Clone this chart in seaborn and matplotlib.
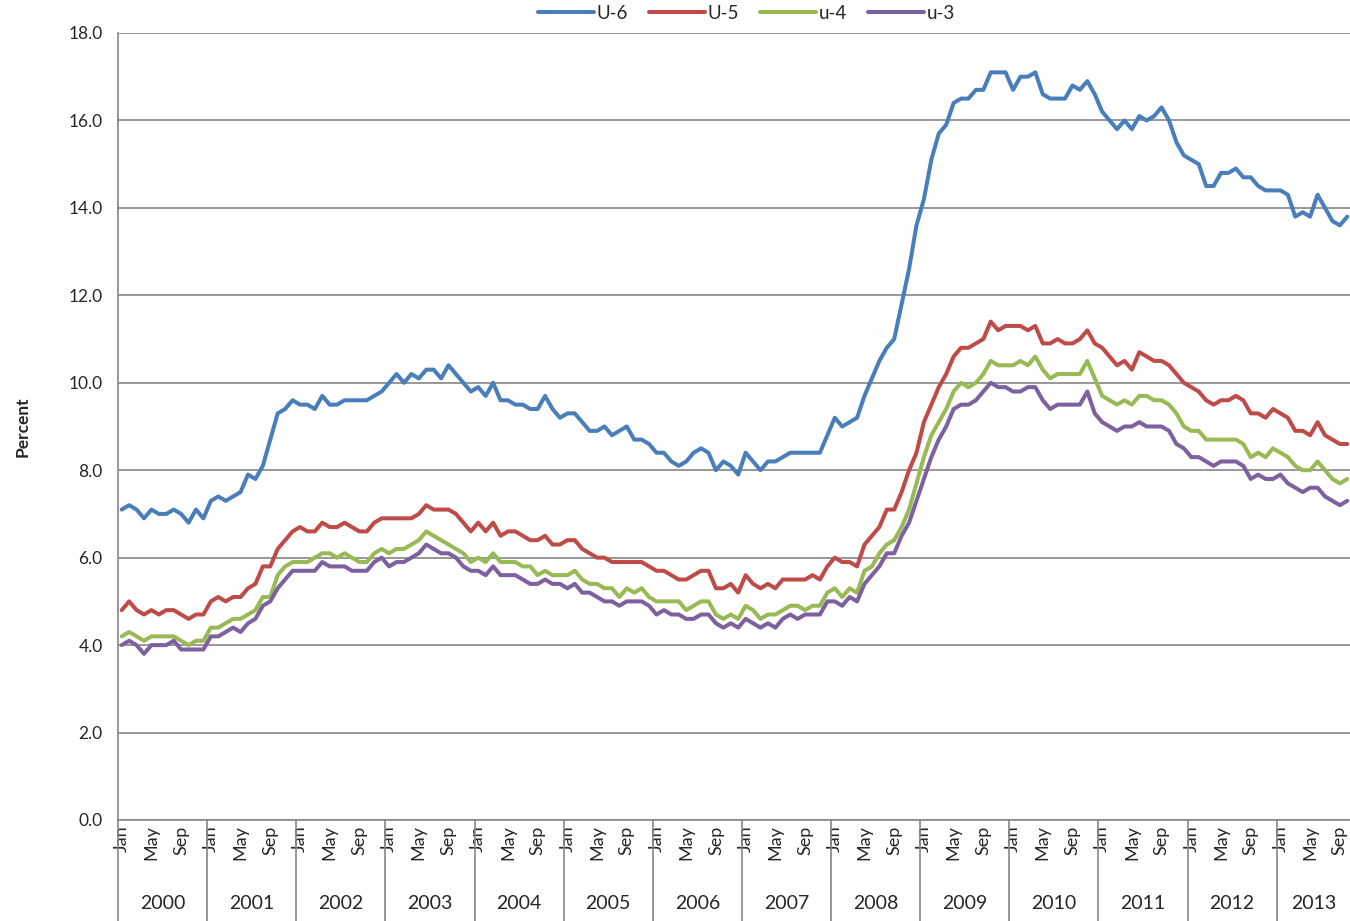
import numpy as np
import pandas as pd
import matplotlib
matplotlib.use("Agg")
import matplotlib.pyplot as plt
import seaborn as sns

# Monthly rates, Jan 2000 - Oct 2013
years = list(range(2000, 2014))
month_names = ["Jan", "Feb", "Mar", "Apr", "May", "Jun",
               "Jul", "Aug", "Sep", "Oct", "Nov", "Dec"]

u6 = [
    7.1, 7.2, 7.1, 6.9, 7.1, 7.0, 7.0, 7.1, 7.0, 6.8, 7.1, 6.9,
    7.3, 7.4, 7.3, 7.4, 7.5, 7.9, 7.8, 8.1, 8.7, 9.3, 9.4, 9.6,
    9.5, 9.5, 9.4, 9.7, 9.5, 9.5, 9.6, 9.6, 9.6, 9.6, 9.7, 9.8,
    10.0, 10.2, 10.0, 10.2, 10.1, 10.3, 10.3, 10.1, 10.4, 10.2, 10.0, 9.8,
    9.9, 9.7, 10.0, 9.6, 9.6, 9.5, 9.5, 9.4, 9.4, 9.7, 9.4, 9.2,
    9.3, 9.3, 9.1, 8.9, 8.9, 9.0, 8.8, 8.9, 9.0, 8.7, 8.7, 8.6,
    8.4, 8.4, 8.2, 8.1, 8.2, 8.4, 8.5, 8.4, 8.0, 8.2, 8.1, 7.9,
    8.4, 8.2, 8.0, 8.2, 8.2, 8.3, 8.4, 8.4, 8.4, 8.4, 8.4, 8.8,
    9.2, 9.0, 9.1, 9.2, 9.7, 10.1, 10.5, 10.8, 11.0, 11.8, 12.6, 13.6,
    14.2, 15.1, 15.7, 15.9, 16.4, 16.5, 16.5, 16.7, 16.7, 17.1, 17.1, 17.1,
    16.7, 17.0, 17.0, 17.1, 16.6, 16.5, 16.5, 16.5, 16.8, 16.7, 16.9, 16.6,
    16.2, 16.0, 15.8, 16.0, 15.8, 16.1, 16.0, 16.1, 16.3, 16.0, 15.5, 15.2,
    15.1, 15.0, 14.5, 14.5, 14.8, 14.8, 14.9, 14.7, 14.7, 14.5, 14.4, 14.4,
    14.4, 14.3, 13.8, 13.9, 13.8, 14.3, 14.0, 13.7, 13.6, 13.8,
]
u5 = [
    4.8, 5.0, 4.8, 4.7, 4.8, 4.7, 4.8, 4.8, 4.7, 4.6, 4.7, 4.7,
    5.0, 5.1, 5.0, 5.1, 5.1, 5.3, 5.4, 5.8, 5.8, 6.2, 6.4, 6.6,
    6.7, 6.6, 6.6, 6.8, 6.7, 6.7, 6.8, 6.7, 6.6, 6.6, 6.8, 6.9,
    6.9, 6.9, 6.9, 6.9, 7.0, 7.2, 7.1, 7.1, 7.1, 7.0, 6.8, 6.6,
    6.8, 6.6, 6.8, 6.5, 6.6, 6.6, 6.5, 6.4, 6.4, 6.5, 6.3, 6.3,
    6.4, 6.4, 6.2, 6.1, 6.0, 6.0, 5.9, 5.9, 5.9, 5.9, 5.9, 5.8,
    5.7, 5.7, 5.6, 5.5, 5.5, 5.6, 5.7, 5.7, 5.3, 5.3, 5.4, 5.2,
    5.6, 5.4, 5.3, 5.4, 5.3, 5.5, 5.5, 5.5, 5.5, 5.6, 5.5, 5.8,
    6.0, 5.9, 5.9, 5.8, 6.3, 6.5, 6.7, 7.1, 7.1, 7.5, 8.0, 8.4,
    9.1, 9.5, 9.9, 10.2, 10.6, 10.8, 10.8, 10.9, 11.0, 11.4, 11.2, 11.3,
    11.3, 11.3, 11.2, 11.3, 10.9, 10.9, 11.0, 10.9, 10.9, 11.0, 11.2, 10.9,
    10.8, 10.6, 10.4, 10.5, 10.3, 10.7, 10.6, 10.5, 10.5, 10.4, 10.2, 10.0,
    9.9, 9.8, 9.6, 9.5, 9.6, 9.6, 9.7, 9.6, 9.3, 9.3, 9.2, 9.4,
    9.3, 9.2, 8.9, 8.9, 8.8, 9.1, 8.8, 8.7, 8.6, 8.6,
]
u4 = [
    4.2, 4.3, 4.2, 4.1, 4.2, 4.2, 4.2, 4.2, 4.1, 4.0, 4.1, 4.1,
    4.4, 4.4, 4.5, 4.6, 4.6, 4.7, 4.8, 5.1, 5.1, 5.6, 5.8, 5.9,
    5.9, 5.9, 6.0, 6.1, 6.1, 6.0, 6.1, 6.0, 5.9, 5.9, 6.1, 6.2,
    6.1, 6.2, 6.2, 6.3, 6.4, 6.6, 6.5, 6.4, 6.3, 6.2, 6.1, 5.9,
    6.0, 5.9, 6.1, 5.9, 5.9, 5.9, 5.8, 5.8, 5.6, 5.7, 5.6, 5.6,
    5.6, 5.7, 5.5, 5.4, 5.4, 5.3, 5.3, 5.1, 5.3, 5.2, 5.3, 5.1,
    5.0, 5.0, 5.0, 5.0, 4.8, 4.9, 5.0, 5.0, 4.7, 4.6, 4.7, 4.6,
    4.9, 4.8, 4.6, 4.7, 4.7, 4.8, 4.9, 4.9, 4.8, 4.9, 4.9, 5.2,
    5.3, 5.1, 5.3, 5.2, 5.7, 5.8, 6.1, 6.3, 6.4, 6.7, 7.1, 7.7,
    8.3, 8.8, 9.1, 9.4, 9.8, 10.0, 9.9, 10.0, 10.2, 10.5, 10.4, 10.4,
    10.4, 10.5, 10.4, 10.6, 10.3, 10.1, 10.2, 10.2, 10.2, 10.2, 10.5, 10.1,
    9.7, 9.6, 9.5, 9.6, 9.5, 9.7, 9.7, 9.6, 9.6, 9.5, 9.3, 9.0,
    8.9, 8.9, 8.7, 8.7, 8.7, 8.7, 8.7, 8.6, 8.3, 8.4, 8.3, 8.5,
    8.4, 8.3, 8.1, 8.0, 8.0, 8.2, 8.0, 7.8, 7.7, 7.8,
]
u3 = [
    4.0, 4.1, 4.0, 3.8, 4.0, 4.0, 4.0, 4.1, 3.9, 3.9, 3.9, 3.9,
    4.2, 4.2, 4.3, 4.4, 4.3, 4.5, 4.6, 4.9, 5.0, 5.3, 5.5, 5.7,
    5.7, 5.7, 5.7, 5.9, 5.8, 5.8, 5.8, 5.7, 5.7, 5.7, 5.9, 6.0,
    5.8, 5.9, 5.9, 6.0, 6.1, 6.3, 6.2, 6.1, 6.1, 6.0, 5.8, 5.7,
    5.7, 5.6, 5.8, 5.6, 5.6, 5.6, 5.5, 5.4, 5.4, 5.5, 5.4, 5.4,
    5.3, 5.4, 5.2, 5.2, 5.1, 5.0, 5.0, 4.9, 5.0, 5.0, 5.0, 4.9,
    4.7, 4.8, 4.7, 4.7, 4.6, 4.6, 4.7, 4.7, 4.5, 4.4, 4.5, 4.4,
    4.6, 4.5, 4.4, 4.5, 4.4, 4.6, 4.7, 4.6, 4.7, 4.7, 4.7, 5.0,
    5.0, 4.9, 5.1, 5.0, 5.4, 5.6, 5.8, 6.1, 6.1, 6.5, 6.8, 7.3,
    7.8, 8.3, 8.7, 9.0, 9.4, 9.5, 9.5, 9.6, 9.8, 10.0, 9.9, 9.9,
    9.8, 9.8, 9.9, 9.9, 9.6, 9.4, 9.5, 9.5, 9.5, 9.5, 9.8, 9.3,
    9.1, 9.0, 8.9, 9.0, 9.0, 9.1, 9.0, 9.0, 9.0, 8.9, 8.6, 8.5,
    8.3, 8.3, 8.2, 8.1, 8.2, 8.2, 8.2, 8.1, 7.8, 7.9, 7.8, 7.8,
    7.9, 7.7, 7.6, 7.5, 7.6, 7.6, 7.4, 7.3, 7.2, 7.3,
]

series_names = ["U-6", "U-5", "u-4", "u-3"]
series_colors = ["#4A7EBB", "#BE4B48", "#98B954", "#7D60A0"]
shown_months = ["Jan", "May", "Sep"]

# long table for seaborn
n = len(u6)
idx = np.arange(n)
year_of = [years[i // 12] for i in idx]
month_of = [month_names[i % 12] for i in idx]
frames = []
for name, vals in zip(series_names, [u6, u5, u4, u3]):
    frames.append(pd.DataFrame({"idx": idx, "series": name, "value": vals}))
df = pd.concat(frames, ignore_index=True)

sns.set_style("white")
plt.rcParams["font.family"] = ["Lato", "DejaVu Sans"]

grey = "#868686"
fig = plt.figure(figsize=(13.5, 9.21), dpi=100)
ax = fig.add_axes([118 / 1350, 1 - 820 / 921, 1233 / 1350, 787 / 921])

sns.lineplot(data=df, x="idx", y="value", hue="series", hue_order=series_names,
             palette=series_colors, linewidth=2.9, ax=ax)

# y axis
ticks = np.arange(0, 18.1, 2)
ax.set_ylim(0, 18)
ax.set_yticks(ticks)
ax.set_yticklabels([f"{v:.1f}" for v in ticks], fontsize=12.5)
ax.grid(axis="y", color=grey, linewidth=1.2)
ax.set_axisbelow(True)
ax.set_ylabel("Percent", fontsize=12.5, fontweight="bold")
ax.yaxis.set_label_coords(-0.071, 0.5)
ax.set_xlabel("")

# x axis: months as categories
ax.set_xlim(-0.5, n - 0.5)
lab_pos = [i for i in idx if month_of[i] in shown_months]
ax.set_xticks(lab_pos)
ax.set_xticklabels([month_of[i] for i in lab_pos], rotation=90, fontsize=13)
ax.set_xticks(np.arange(-0.5, n, 1), minor=True)
ax.tick_params(axis="x", which="major", length=0, pad=4)
ax.tick_params(axis="x", which="minor", length=52, color=grey, width=1)
ax.tick_params(axis="y", which="major", length=5, color=grey, width=1, pad=6)

for side in ["top", "right"]:
    ax.spines[side].set_visible(False)
for side in ["left", "bottom"]:
    ax.spines[side].set_color(grey)
    ax.spines[side].set_linewidth(1.2)

# year groups under the month labels
tr = ax.get_xaxis_transform()
for y in years:
    members = [i for i in idx if year_of[i] == y]
    ax.text(np.mean(members), -0.1055, str(y), transform=tr,
            ha="center", va="center", fontsize=14)
    ax.plot([members[0] - 0.5, members[0] - 0.5], [0, -0.13], transform=tr,
            color=grey, linewidth=1.2, clip_on=False)

sns.move_legend(ax, "upper center", bbox_to_anchor=(0.553, 1.013),
                bbox_transform=fig.transFigure, ncol=4, frameon=False,
                title=None, fontsize=13.5, handlelength=3.0,
                handletextpad=0.15, columnspacing=1.1)

fig.savefig("out.png", dpi=100)
